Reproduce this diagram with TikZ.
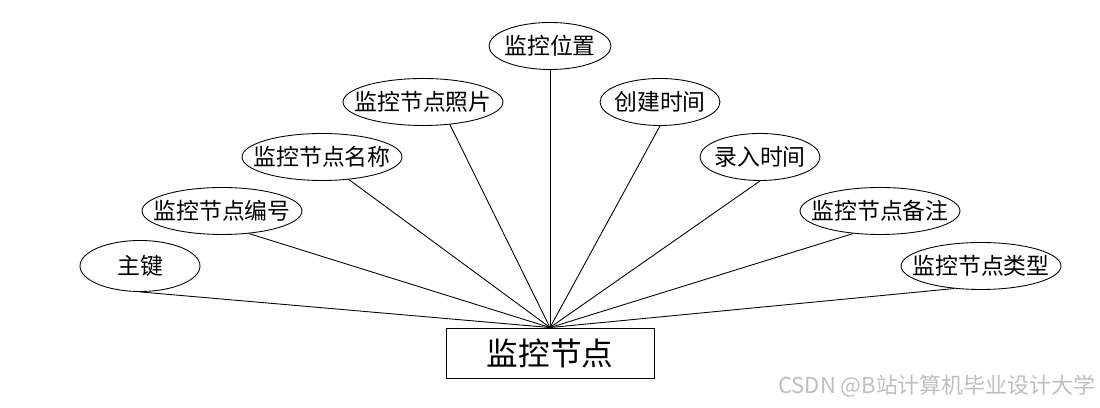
\documentclass[tikz,border=0pt]{standalone}
\usepackage{fontspec}
\setmainfont{Noto Sans CJK SC}
\usepackage{tikz}
\usetikzlibrary{shapes.geometric}

\begin{document}
\begin{tikzpicture}[x=0.02cm,y=0.02cm,
  attr/.style={draw,ellipse,line width=0.5pt,inner xsep=-0.3cm,inner ysep=0pt,minimum height=0.94cm,font=\fontsize{13}{13}\selectfont},
  ent/.style={draw,rectangle,line width=0.5pt,minimum width=4.16cm,minimum height=1.0cm,font=\fontsize{18}{18}\selectfont},
  link/.style={line width=0.5pt}]
\useasboundingbox (0,0) rectangle (1100,408);
\node[ent] (node) at (550,55) {监控节点};
\node[attr,minimum width=2.4cm,minimum height=1.02cm] (pk) at (140,142) {主键};
\node[attr,minimum width=3.2cm] (nid) at (222,197) {监控节点编号};
\node[attr,minimum width=3.2cm] (nname) at (322,251) {监控节点名称};
\node[attr,minimum width=3.2cm] (nphoto) at (423,306) {监控节点照片};
\node[attr,minimum width=2.44cm] (place) at (550,362) {监控位置};
\node[attr,minimum width=2.4cm] (ctime) at (660,306) {创建时间};
\node[attr,minimum width=2.4cm] (itime) at (760,251) {录入时间};
\node[attr,minimum width=3.2cm] (nnote) at (880,197) {监控节点备注};
\node[attr,minimum width=3.2cm] (ntype) at (981,142) {监控节点类型};
% connectors
\draw[link] (pk.south) -- (node.north);
\draw[link] (nid.320) -- (node.north);
\draw[link] (nname.320) -- (node.north);
\draw[link] (nphoto.320) -- (node.north);
\draw[link] (place.south) -- (node.north);
\draw[link] (ctime.south) -- (node.north);
\draw[link] (itime.south) -- (node.north);
\draw[link] (nnote.220) -- (node.north);
\draw[link] (ntype.220) -- (node.north);
% watermark
\node[text=black!25,font=\fontsize{12.5}{12.5}\selectfont,inner sep=0pt] (mark) at (937,22) {CSDN @B站计算机毕业设计大学};
\end{tikzpicture}
\end{document}
